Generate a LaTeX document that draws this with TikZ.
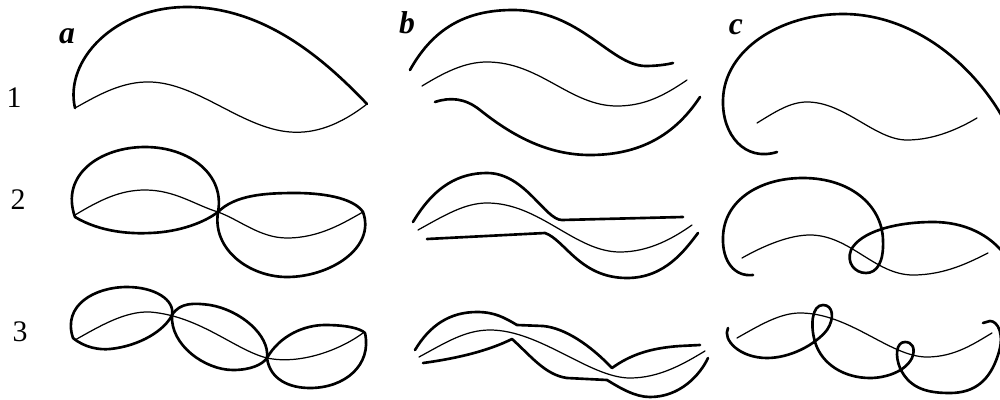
\documentclass[tikz,border=0pt]{standalone}
\usepackage{fontspec}
\setmainfont{Liberation Serif}
\usepackage{tikz}
\usetikzlibrary{positioning}
\tikzset{
  outline/.style={draw=black, line width=1.5pt, line cap=round, line join=round},
  axis/.style={draw=black, line width=0.7pt, line cap=round},
  coltag/.style={font=\fontsize{18}{20}\selectfont\bfseries\itshape, inner sep=0pt},
  rowtag/.style={font=\fontsize{17}{20}\selectfont, inner sep=0pt}
}
\begin{document}
\begin{tikzpicture}[x=0.02cm, y=-0.02cm]
    \useasboundingbox (0,0) rectangle (1000,399);
    \node[coltag] (cola) at (67,36) {a};
    \node[coltag] (colb) at (407,23) {b};
    \node[coltag] (colc) at (736,27) {c};
    \node[rowtag] (row1) at (14,98) {1};
    \node[rowtag] (row2) at (18,200) {2};
    \node[rowtag] (row3) at (20,332) {3};
    % row 1
    \draw[outline] (75,108) .. controls (64,60) and (115,7) .. (187,7) .. controls (265,7) and (325,60) .. (367,104);
    \draw[axis] (367,104) .. controls (340,125) and (315,134) .. (290,132) .. controls (240,128) and (195,80) .. (145,82) .. controls (118,83) and (95,97) .. (75,108);
    \draw[outline] (410,70) .. controls (435,25) and (470,10) .. (513,10) .. controls (580,10) and (610,65) .. (645,66) .. controls (655,66) and (665,65) .. (673,63);
    \draw[axis] (422,86) .. controls (445,72) and (465,62) .. (487,62) .. controls (540,62) and (570,106) .. (617,106) .. controls (645,106) and (665,95) .. (687,80);
    \draw[outline] (435,102) .. controls (450,97) and (465,98) .. (480,110) .. controls (515,138) and (550,155) .. (590,155) .. controls (640,155) and (675,135) .. (700,97);
    \draw[outline] (777,152) .. controls (745,162) and (722,135) .. (723,100) .. controls (724,50) and (780,14) .. (843,14) .. controls (910,14) and (970,60) .. (1003,118);
    \draw[axis] (757,123) .. controls (775,112) and (790,102) .. (807,102) .. controls (845,102) and (875,140) .. (907,140) .. controls (935,140) and (960,128) .. (977,118);
    % row 2
    \draw[outline] (75,217) .. controls (60,175) and (100,147) .. (145,147) .. controls (190,147) and (225,175) .. (218,212);
    \draw[outline] (75,217) .. controls (100,232) and (130,234) .. (150,233) .. controls (180,232) and (205,222) .. (218,212);
    \draw[outline] (218,212) .. controls (235,195) and (265,193) .. (295,193) .. controls (330,193) and (355,200) .. (363,212);
    \draw[outline] (218,212) .. controls (212,250) and (250,277) .. (287,277) .. controls (330,277) and (376,248) .. (363,212);
    \draw[axis] (75,215) .. controls (100,200) and (120,190) .. (145,190) .. controls (175,190) and (195,205) .. (218,212) .. controls (240,220) and (260,238) .. (287,238) .. controls (320,238) and (345,222) .. (363,212);
    \draw[outline] (413,222) .. controls (435,185) and (460,173) .. (487,173) .. controls (525,173) and (545,220) .. (562,220) -- (683,217);
    \draw[axis] (418,230) .. controls (445,215) and (465,203) .. (487,203) .. controls (540,203) and (575,252) .. (620,252) .. controls (650,252) and (675,237) .. (692,225);
    \draw[outline] (427,239) -- (545,233) .. controls (565,240) and (580,278) .. (627,278) .. controls (665,278) and (685,250) .. (698,233);
    \draw[outline] (753,275) .. controls (735,277) and (722,262) .. (723,237) .. controls (724,200) and (760,178) .. (803,178) .. controls (850,178) and (882,205) .. (883,240) .. controls (884,262) and (877,273) .. (866,273) .. controls (855,273) and (846,263) .. (851,250) .. controls (860,232) and (895,222) .. (933,222) .. controls (965,222) and (990,235) .. (1005,255);
    \draw[axis] (742,258) .. controls (765,245) and (790,235) .. (810,235) .. controls (850,235) and (875,275) .. (913,275) .. controls (945,275) and (970,262) .. (988,253);
    % row 3
    \draw[outline] (73,338) .. controls (62,305) and (95,287) .. (127,287) .. controls (155,287) and (175,300) .. (172,315);
    \draw[outline] (73,338) .. controls (85,348) and (100,350) .. (110,349) .. controls (140,346) and (165,330) .. (172,315);
    \draw[outline] (172,315) .. controls (180,302) and (195,303) .. (210,305) .. controls (240,310) and (270,335) .. (267,358);
    \draw[outline] (172,315) .. controls (170,345) and (205,370) .. (233,370) .. controls (250,370) and (262,365) .. (267,358);
    \draw[outline] (267,358) .. controls (280,335) and (305,325) .. (325,325) .. controls (345,325) and (360,328) .. (365,333);
    \draw[outline] (267,358) .. controls (270,380) and (290,388) .. (310,388) .. controls (345,388) and (372,365) .. (365,333);
    \draw[axis] (75,340) .. controls (100,326) and (125,311) .. (150,312) .. controls (200,316) and (235,350) .. (267,358) .. controls (300,365) and (340,350) .. (363,333);
    \draw[outline] (415,350) .. controls (430,325) and (450,312) .. (477,312) .. controls (495,312) and (505,318) .. (517,325) -- (543,326) .. controls (565,328) and (590,345) .. (612,368) .. controls (630,355) and (650,348) .. (680,346) -- (700,345);
    \draw[axis] (419,357) .. controls (445,343) and (465,330) .. (490,330) .. controls (540,330) and (590,378) .. (630,378) .. controls (660,378) and (685,363) .. (705,351);
    \draw[outline] (423,363) .. controls (460,358) and (490,350) .. (512,339) .. controls (530,355) and (545,375) .. (567,378) -- (607,380) .. controls (620,388) and (635,397) .. (650,397) .. controls (680,397) and (700,375) .. (708,358);
    \draw[outline] (728,328) .. controls (722,340) and (740,358) .. (767,358) .. controls (790,358) and (815,345) .. (827,330) .. controls (835,318) and (833,305) .. (823,305) .. controls (812,305) and (810,325) .. (815,342) .. controls (822,365) and (845,378) .. (870,378) .. controls (885,378) and (905,372) .. (912,358) .. controls (916,348) and (912,342) .. (905,342) .. controls (896,342) and (895,356) .. (900,368) .. controls (910,390) and (930,393) .. (950,393) .. controls (975,393) and (990,380) .. (998,355) .. controls (1005,335) and (998,321) .. (990,321) -- (983,323);
    \draw[axis] (737,338) .. controls (760,325) and (780,313) .. (800,313) .. controls (850,313) and (890,357) .. (927,357) .. controls (955,357) and (975,343) .. (992,333);
\end{tikzpicture}
\end{document}
